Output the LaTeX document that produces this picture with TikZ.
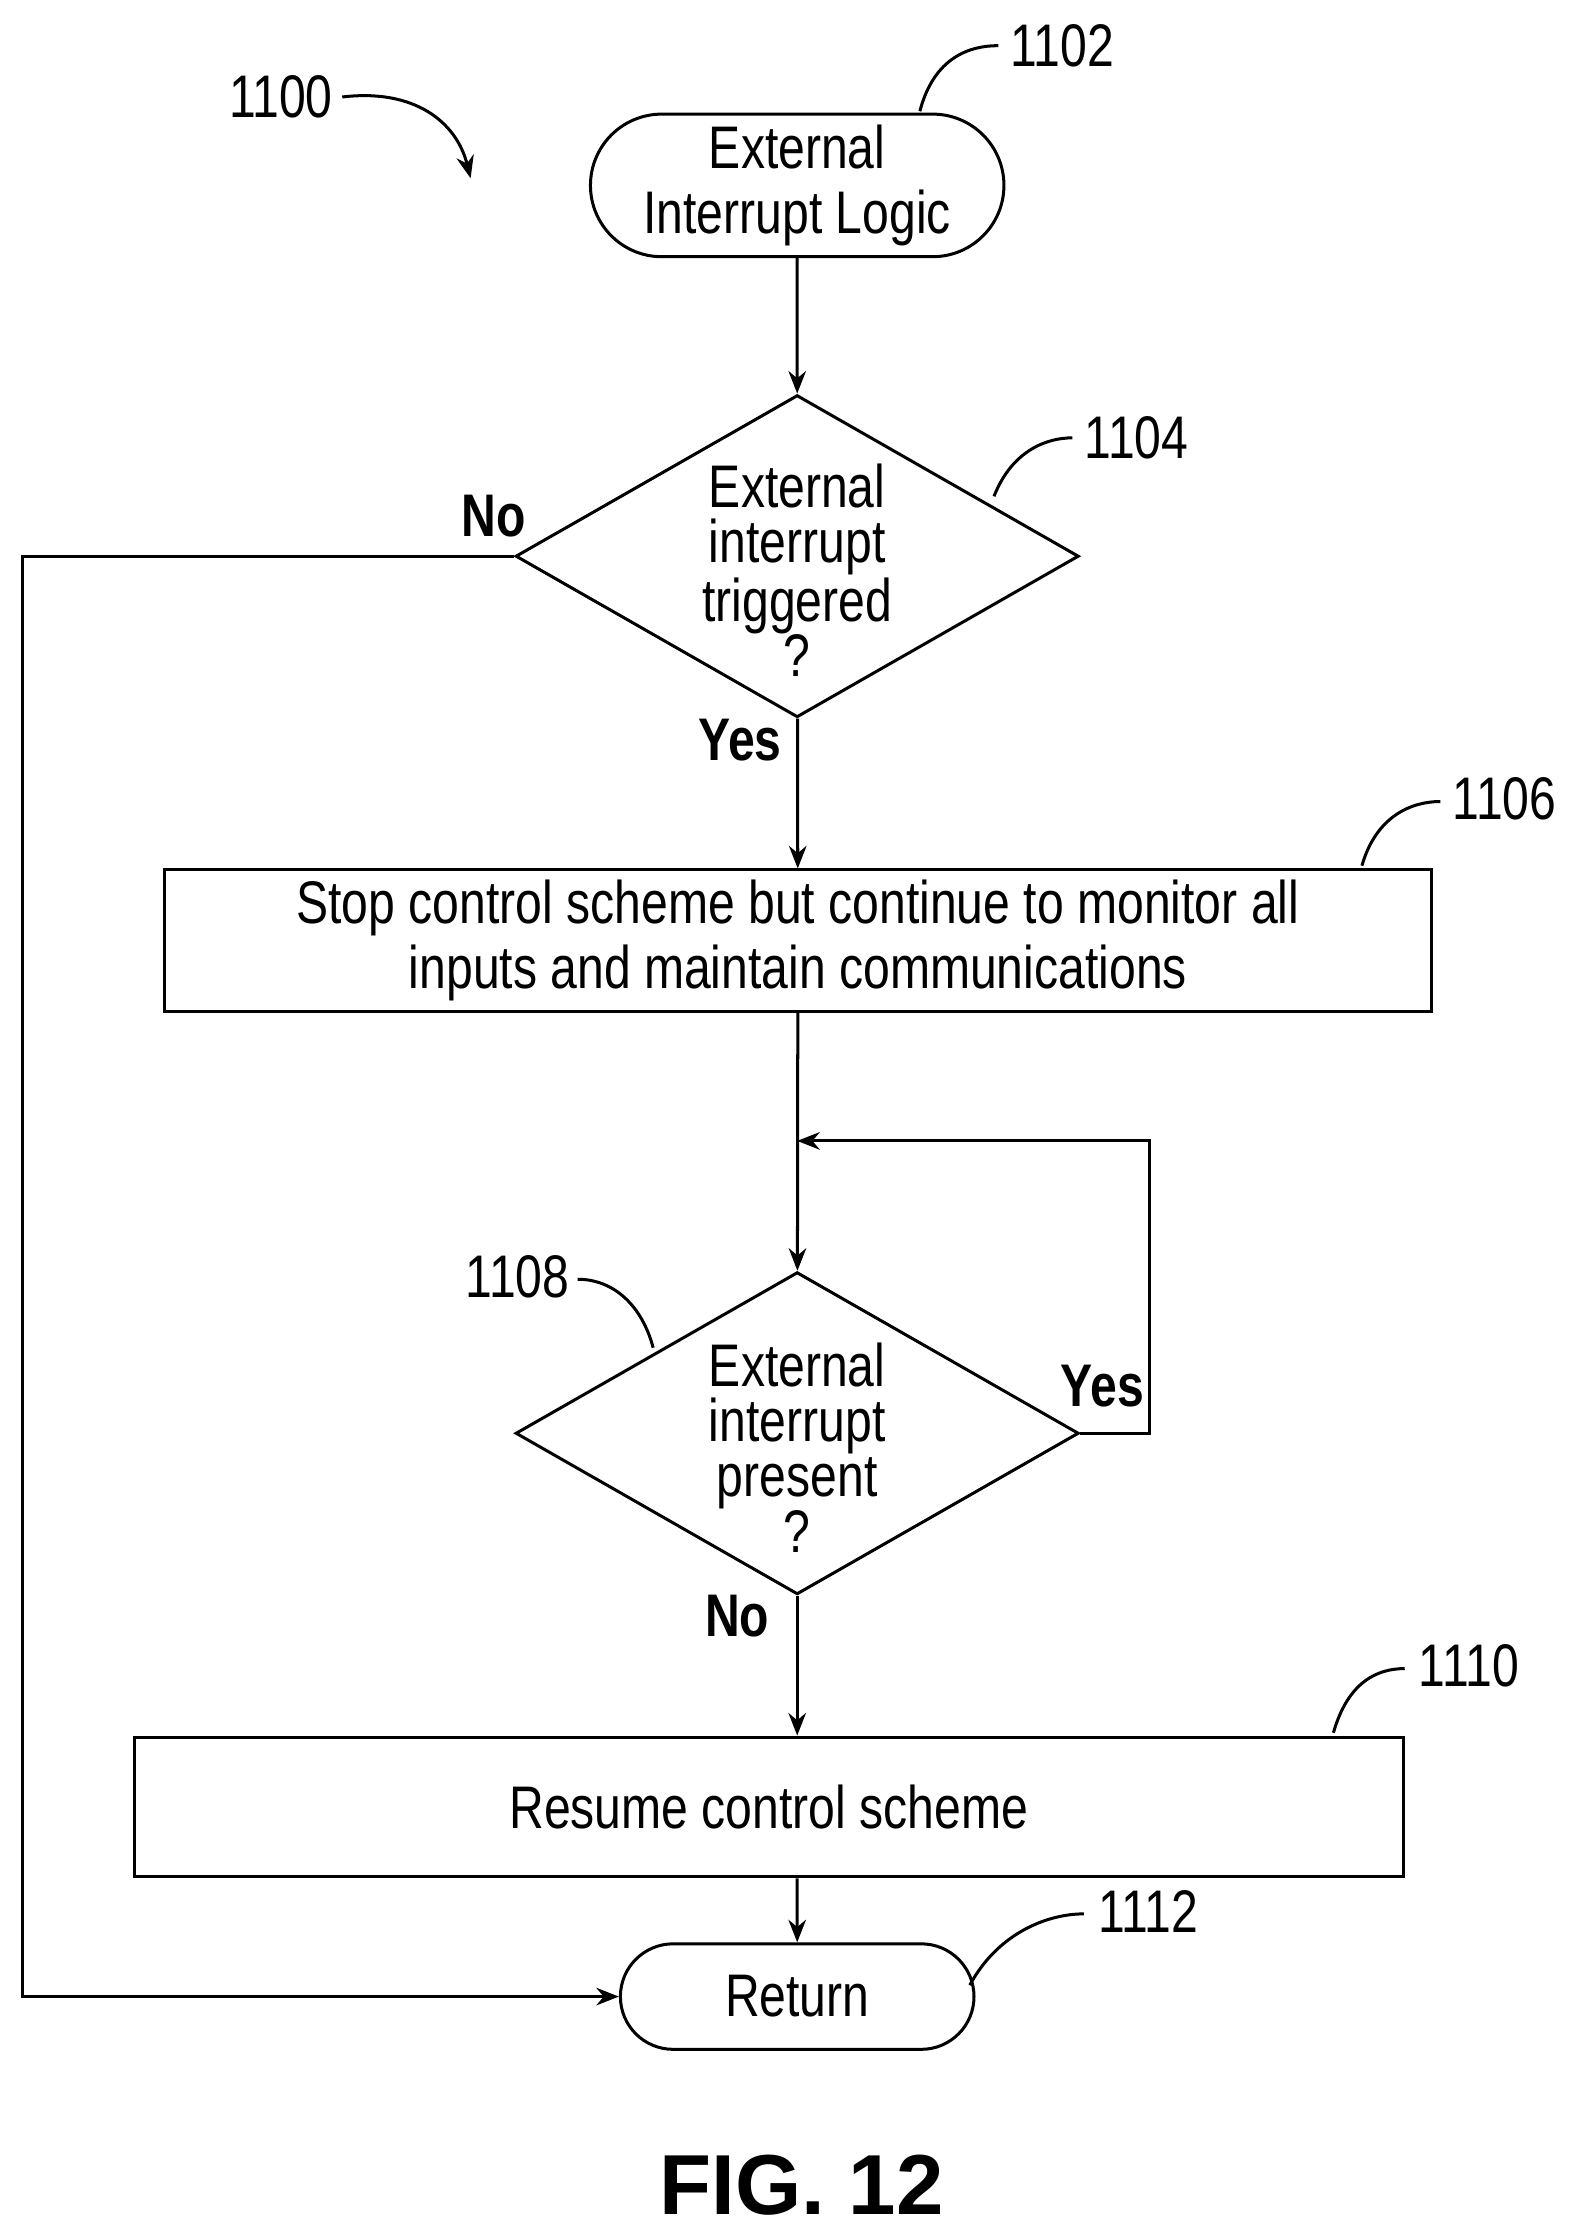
\documentclass[tikz,border=0pt]{standalone}
\usepackage{fontspec}
\setmainfont{Liberation Sans}[FakeStretch=0.8]
\newfontfamily\figfont{Liberation Sans}
\usetikzlibrary{shapes.geometric, shapes.misc, arrows.meta, positioning}

\begin{document}
\begin{tikzpicture}[
    x=0.02cm, y=-0.02cm,
    % Box Styles
    base/.style={
        draw=black,
        line width=1.2pt,
        align=center,
        font=\fontsize{24}{26}\selectfont,
        inner sep=0pt
    },
    termBox/.style={
        base,
        rounded rectangle
    },
    stepBox/.style={
        base,
        rectangle
    },
    decision/.style={
        base,
        diamond,
        minimum width=7.9cm,
        minimum height=4.52cm
    },
    % Line Styles
    connector/.style={
        -{Stealth[length=9pt,width=7pt]},
        line width=1.2pt
    },
    % Text Styles
    refLabel/.style={
        font=\fontsize{24}{26}\selectfont
    },
    answer/.style={
        font=\fontsize{24}{26}\selectfont\bfseries
    },
    leader/.style={
        line width=1.2pt
    }
]
    \useasboundingbox (0,0) rectangle (1107,1570);

    % --- NODES ---
    \node[termBox, minimum width=5.8cm, minimum height=2.0cm] (start) at (559,130)
        {External\\Interrupt Logic};
    \node[decision] (trig) at (559,390) {};
    \node[align=center, font=\fontsize{24}{22}\selectfont] at (559,400)
        {External\\interrupt\\triggered\\?};
    \node[stepBox, minimum width=17.78cm, minimum height=1.98cm] (stop) at (559.5,659.5)
        {Stop control scheme but continue to monitor all\\inputs and maintain communications};
    \node[decision] (present) at (559,1005) {};
    \node[align=center, font=\fontsize{24}{22}\selectfont] at (559,1015)
        {External\\interrupt\\present\\?};
    \node[stepBox, minimum width=17.8cm, minimum height=1.96cm] (resume) at (539,1267)
        {Resume control scheme};
    \node[termBox, minimum width=4.96cm, minimum height=1.48cm] (ret) at (559,1400)
        {Return};

    % --- CONNECTIONS ---
    \draw[connector] (start) -- (trig);
    \draw[connector] (trig) -- (stop);
    \draw[connector] (stop) -- (present);
    \draw[connector] (present.south) -- (present.south |- resume.north);
    \draw[connector] (resume.south -| ret.north) -- (ret);
    \draw[connector] (trig.west) -- (16,390) |- (ret.west);
    \coordinate (loopTop) at (559,800);
    \draw[connector] (present.east) -- (806,1005) |- (loopTop);

    % --- ANSWERS ---
    \node[answer] at (346,362) {No};
    \node[answer] at (519,519) {Yes};
    \node[answer] at (773,972) {Yes};
    \node[answer] at (517,1133) {No};

    % --- REFERENCE LABELS ---
    \node[refLabel] (n1100) at (197,68) {1100};
    \draw[leader, -{Stealth[length=9pt,width=7pt]}] (240,68) .. controls (290,62) and (320,85) .. (330,125);
    \node[refLabel] (n1102) at (745,32) {1102};
    \draw[leader] (645,78) .. controls (655,40) and (680,32) .. (700,32);
    \node[refLabel] (n1104) at (797,307) {1104};
    \draw[leader] (697,348) .. controls (710,315) and (735,307) .. (752,307);
    \node[refLabel] (n1106) at (1055,560) {1106};
    \draw[leader] (955,607) .. controls (965,572) and (990,562) .. (1010,562);
    \node[refLabel] (n1108) at (363,895) {1108};
    \draw[leader] (405,897) .. controls (430,897) and (450,915) .. (458,945);
    \node[refLabel] (n1110) at (1030,1168) {1110};
    \draw[leader] (935,1215) .. controls (945,1180) and (965,1170) .. (985,1170);
    \node[refLabel] (n1112) at (805,1340) {1112};
    \draw[leader] (680,1392) .. controls (700,1355) and (735,1342) .. (760,1342);

    % --- CAPTION ---
    \node[font=\figfont\fontsize{34}{36}\selectfont\bfseries] (fig) at (562,1532) {FIG. 12};
\end{tikzpicture}
\end{document}
